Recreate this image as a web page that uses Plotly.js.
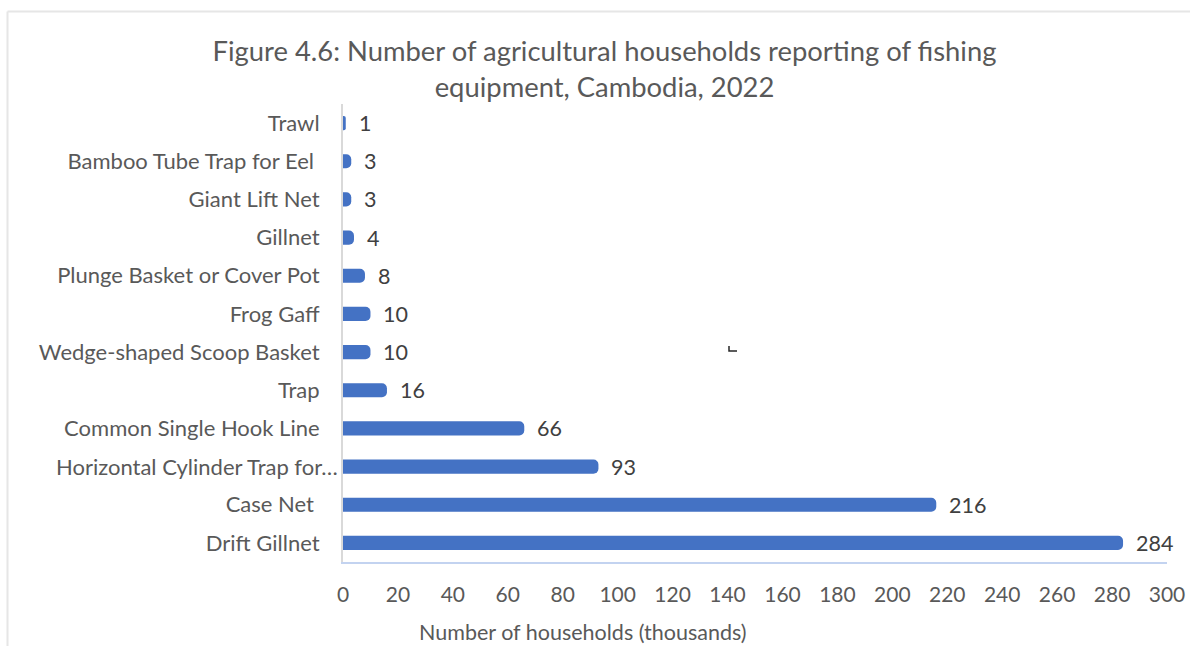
<!DOCTYPE html>
<html>
<head>
<meta charset="utf-8">
<script src="https://cdn.plot.ly/plotly-3.0.1.min.js"></script>
<style>
  html, body { margin: 0; padding: 0; background: #ffffff; }
  #chart { width: 1190px; height: 646px; }
</style>
</head>
<body>
<div id="chart"></div>
<script>
// Fishing equipment, listed top to bottom
const equipment = [
  "Trawl",
  "Bamboo Tube Trap for Eel ",
  "Giant Lift Net",
  "Gillnet",
  "Plunge Basket or Cover Pot",
  "Frog Gaff",
  "Wedge-shaped Scoop Basket",
  "Trap",
  "Common Single Hook Line",
  "Horizontal Cylinder Trap for…",
  "Case Net ",
  "Drift Gillnet"
];
// Households reporting each item (thousands)
const households = [1, 3, 3, 4, 8, 10, 10, 16, 66, 93, 216, 284];

const xTicks = [0, 20, 40, 60, 80, 100, 120, 140, 160, 180, 200, 220, 240, 260, 280, 300];

const W = 1190, H = 646;
const M = { l: 343, r: 23, t: 104, b: 84 };
const pw = W - M.l - M.r, ph = H - M.t - M.b;
const px = v => (v - M.l) / pw;          // pixel x -> paper x
const py = v => (H - M.b - v) / ph;      // pixel y -> paper y

const font = "Lato, 'Open Sans', sans-serif";
const labelSize = 22;

// truncated names run closer to the axis, so they are drawn as annotations
const isTruncated = s => s.endsWith("…");

const trace = {
  type: "bar",
  orientation: "h",
  x: households,
  y: equipment,
  marker: { color: "#4472c4", cornerradius: 5, line: { width: 0 } },
  hoverinfo: "x+y"
};

const annotations = households.map((v, i) => ({
  x: v, y: equipment[i], xref: "x", yref: "y",
  text: String(v), showarrow: false,
  xanchor: "left", yanchor: "middle", xshift: 11,
  font: { family: font, size: 21.5, color: "#404040" }
}));

equipment.filter(isTruncated).forEach(name => annotations.push({
  x: 0, y: name, xref: "paper", yref: "y",
  text: name, showarrow: false,
  xanchor: "right", yanchor: "middle", xshift: -3,
  font: { family: font, size: labelSize, color: "#595959" }
}));

// axis title, centred under the chart body rather than the plot area
annotations.push({
  x: px(583), y: py(632), xref: "paper", yref: "paper",
  text: "Number of households (thousands)", showarrow: false,
  xanchor: "center", yanchor: "middle",
  font: { family: font, size: 21.5, color: "#595959" }
});

const frameColor = "#e6e6e6";
const shapes = [
  // outer chart frame (left and top edges)
  { type: "line", xref: "paper", yref: "paper",
    x0: px(7.5), x1: px(7.5), y0: py(11.5), y1: py(H + 2),
    line: { color: frameColor, width: 2 } },
  { type: "line", xref: "paper", yref: "paper",
    x0: px(7.5), x1: px(W + 2), y0: py(11.5), y1: py(11.5),
    line: { color: frameColor, width: 2 } },
  // small stray mark in the plot area
  { type: "path", xref: "paper", yref: "paper",
    path: `M ${px(729)} ${py(346)} L ${px(729)} ${py(351)} L ${px(737)} ${py(351)}`,
    line: { color: "#262626", width: 1.5 } }
];

const layout = {
  width: W, height: H,
  margin: M,
  paper_bgcolor: "#ffffff",
  plot_bgcolor: "#ffffff",
  showlegend: false,
  bargap: 0.63,
  font: { family: font, color: "#595959" },
  title: {
    text: "Figure 4.6: Number of agricultural households reporting of fishing<br>equipment, Cambodia, 2022",
    x: 0.508, xref: "container", xanchor: "center",
    y: 1 - 61 / H, yref: "container", yanchor: "top",
    font: { family: font, size: 27.4, color: "#595959" }
  },
  xaxis: {
    range: [0, 300],
    tickvals: xTicks,
    ticktext: xTicks.map(String),
    showgrid: false,
    zeroline: false,
    showline: true,
    linecolor: "#c3d3f0",
    linewidth: 2,
    ticks: "",
    ticklabelstandoff: 13,
    tickfont: { family: font, size: 21, color: "#595959" }
  },
  yaxis: {
    type: "category",
    autorange: "reversed",
    tickvals: equipment,
    ticktext: equipment.map(s => isTruncated(s) ? "" : s),
    showgrid: false,
    zeroline: false,
    showline: true,
    linecolor: "#d9d9d9",
    linewidth: 2,
    ticks: "",
    ticklabelstandoff: 17,
    tickfont: { family: font, size: labelSize, color: "#595959" }
  },
  annotations: annotations,
  shapes: shapes
};

Plotly.newPlot("chart", [trace], layout, { displayModeBar: false, staticPlot: true });
</script>
</body>
</html>
